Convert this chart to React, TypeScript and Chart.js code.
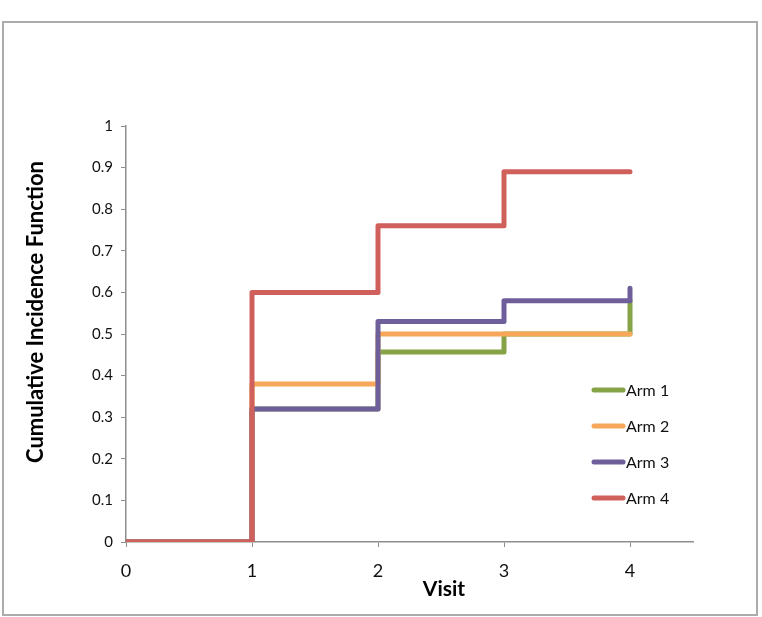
import React, { useEffect, useRef } from "react";
import { Chart, registerables } from "chart.js";

Chart.register(...registerables);

// Visits on the x axis and cumulative incidence for each arm at those visits
const visits = [0, 1, 2, 3, 4];
const arm1 = [0, 0.32, 0.457, 0.5, 0.58];
const arm2 = [0, 0.38, 0.5, 0.5, 0.5];
const arm3 = [0, 0.32, 0.53, 0.58, 0.61];
const arm4 = [0, 0.6, 0.76, 0.89, 0.89];

const armNames = ["Arm 1", "Arm 2", "Arm 3", "Arm 4"];
const armColors = ["#86A347", "#F6A75A", "#6E5E9A", "#D0605C"];
const armValues = [arm1, arm2, arm3, arm4];

const yTitle = "Cumulative Incidence Function";
const xTitle = "Visit";

const FONT = "Lato, 'Open Sans', 'DejaVu Sans', sans-serif";

// Axis titles and the line legend drawn straight onto the canvas
const annotations = {
  id: "annotations",
  afterDraw(chart: Chart) {
    const ctx = chart.ctx;
    const area = chart.chartArea;
    ctx.save();
    ctx.fillStyle = "#000";
    ctx.textAlign = "center";
    ctx.textBaseline = "middle";
    ctx.font = `bold 22px ${FONT}`;
    ctx.translate(36, (area.top + area.bottom) / 2 - 22);
    ctx.rotate(-Math.PI / 2);
    ctx.fillText(yTitle, 0, 0);
    ctx.restore();

    ctx.save();
    ctx.fillStyle = "#000";
    ctx.textAlign = "center";
    ctx.textBaseline = "middle";
    ctx.font = `bold 21px ${FONT}`;
    ctx.fillText(xTitle, 444, area.bottom + 47);
    ctx.restore();

    // legend: short thick line followed by the arm name
    ctx.save();
    ctx.font = `16px ${FONT}`;
    ctx.textAlign = "left";
    ctx.textBaseline = "middle";
    chart.data.datasets.forEach((ds: any, i: number) => {
      const y = 390 + i * 36;
      ctx.strokeStyle = ds.borderColor;
      ctx.lineWidth = 5;
      ctx.lineCap = "round";
      ctx.beginPath();
      ctx.moveTo(594, y);
      ctx.lineTo(623, y);
      ctx.stroke();
      ctx.fillStyle = "#111";
      ctx.fillText(ds.label, 626, y + 1);
    });
    ctx.restore();
  },
};

export default function App() {
  const canvasRef = useRef<HTMLCanvasElement | null>(null);

  useEffect(() => {
    const canvas = canvasRef.current;
    if (!canvas) return;
    const datasets = armNames.map((name, i) => ({
      label: name,
      data: visits.map((v, j) => ({ x: v, y: armValues[i][j] })),
      borderColor: armColors[i],
      backgroundColor: armColors[i],
      borderWidth: 5,
      borderCapStyle: "round" as const,
      borderJoinStyle: "round" as const,
      pointRadius: 0,
      pointHoverRadius: 0,
      stepped: "before" as const,
      fill: false,
      clip: 0,
      order: 3 - i,
    }));

    const axisColor = "#8e8e8e";
    const chart = new Chart(canvas, {
      type: "line",
      data: { datasets },
      options: {
        animation: false,
        responsive: false,
        devicePixelRatio: 1,
        layout: { padding: { left: 0, top: 126, right: 69, bottom: 25 } },
        plugins: {
          legend: { display: false },
          tooltip: { enabled: false },
        },
        scales: {
          x: {
            type: "linear",
            min: 0,
            max: 4.5,
            afterFit: (scale: any) => {
              scale.height = 50;
            },
            ticks: {
              stepSize: 1,
              includeBounds: false,
              color: "#111",
              padding: 13,
              font: { family: FONT, size: 18 },
            },
            grid: {
              drawOnChartArea: false,
              drawTicks: true,
              tickLength: 5,
              color: axisColor,
            },
            border: { color: axisColor, width: 1.5 },
          },
          y: {
            type: "linear",
            min: 0,
            max: 1,
            afterFit: (scale: any) => {
              scale.width = 126;
            },
            ticks: {
              stepSize: 0.1,
              color: "#111",
              padding: 8,
              font: { family: FONT, size: 15 },
              callback: (v: any) => String(Number(Number(v).toFixed(1))),
            },
            grid: {
              drawOnChartArea: false,
              drawTicks: true,
              tickLength: 5,
              color: axisColor,
            },
            border: { color: axisColor, width: 1.5 },
          },
        },
      },
      plugins: [annotations],
    });
    return () => chart.destroy();
  }, []);

  return (
    <div style={{ position: "absolute", left: 0, top: 0, width: 762, height: 617, background: "#fff" }}>
      <div
        style={{
          position: "absolute",
          left: 2,
          top: 21,
          width: 756,
          height: 595,
          border: "2px solid #ababab",
          boxSizing: "border-box",
        }}
      />
      <canvas ref={canvasRef} width={762} height={617} style={{ position: "absolute", left: 0, top: 0 }} />
    </div>
  );
}
